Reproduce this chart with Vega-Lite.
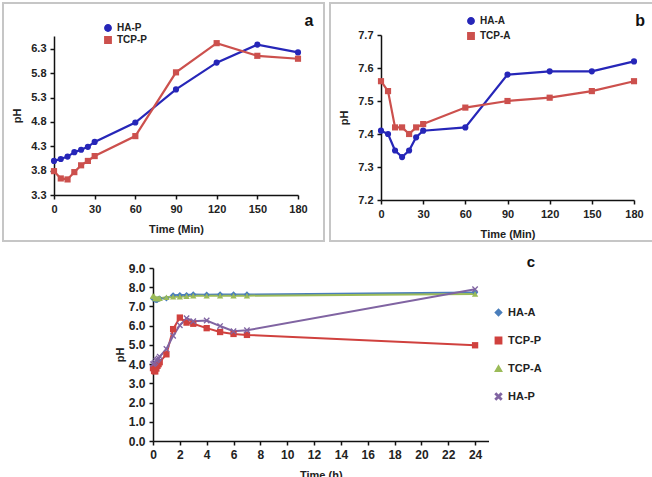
{
  "$schema": "https://vega.github.io/schema/vega-lite/v6.json",
  "padding": {"left": 2, "top": 2, "right": 0, "bottom": 0},
  "background": "white",
  "config": {
    "font": "Liberation Sans",
    "axis": {"grid": false, "domainColor": "#111", "domainWidth": 1.5, "tickColor": "#111", "tickWidth": 1.5, "tickSize": 4, "labelFontSize": 11, "labelFontWeight": "bold", "labelColor": "#222", "labelPadding": 4, "titleFontSize": 11, "titleFontWeight": "bold", "titleColor": "#222", "labelFlush": false, "labelOverlap": false},
    "legend": {"labelFontWeight": "bold", "labelColor": "#222"}
  },
  "datasets": {
    "a": [
      {"t": 0, "pH": 4.0, "s": "HA-P"}, {"t": 5, "pH": 4.04, "s": "HA-P"}, {"t": 10, "pH": 4.09, "s": "HA-P"}, {"t": 15, "pH": 4.18, "s": "HA-P"}, {"t": 20, "pH": 4.23, "s": "HA-P"}, {"t": 25, "pH": 4.29, "s": "HA-P"}, {"t": 30, "pH": 4.39, "s": "HA-P"}, {"t": 60, "pH": 4.79, "s": "HA-P"}, {"t": 90, "pH": 5.47, "s": "HA-P"}, {"t": 120, "pH": 6.02, "s": "HA-P"}, {"t": 150, "pH": 6.39, "s": "HA-P"}, {"t": 180, "pH": 6.23, "s": "HA-P"},
      {"t": 0, "pH": 3.79, "s": "TCP-P"}, {"t": 5, "pH": 3.64, "s": "TCP-P"}, {"t": 10, "pH": 3.62, "s": "TCP-P"}, {"t": 15, "pH": 3.77, "s": "TCP-P"}, {"t": 20, "pH": 3.91, "s": "TCP-P"}, {"t": 25, "pH": 4.0, "s": "TCP-P"}, {"t": 30, "pH": 4.1, "s": "TCP-P"}, {"t": 60, "pH": 4.51, "s": "TCP-P"}, {"t": 90, "pH": 5.82, "s": "TCP-P"}, {"t": 120, "pH": 6.42, "s": "TCP-P"}, {"t": 150, "pH": 6.16, "s": "TCP-P"}, {"t": 180, "pH": 6.1, "s": "TCP-P"}
    ],
    "b": [
      {"t": 0, "pH": 7.41, "s": "HA-A"}, {"t": 5, "pH": 7.40, "s": "HA-A"}, {"t": 10, "pH": 7.35, "s": "HA-A"}, {"t": 15, "pH": 7.33, "s": "HA-A"}, {"t": 20, "pH": 7.35, "s": "HA-A"}, {"t": 25, "pH": 7.39, "s": "HA-A"}, {"t": 30, "pH": 7.41, "s": "HA-A"}, {"t": 60, "pH": 7.42, "s": "HA-A"}, {"t": 90, "pH": 7.58, "s": "HA-A"}, {"t": 120, "pH": 7.59, "s": "HA-A"}, {"t": 150, "pH": 7.59, "s": "HA-A"}, {"t": 180, "pH": 7.62, "s": "HA-A"},
      {"t": 0, "pH": 7.56, "s": "TCP-A"}, {"t": 5, "pH": 7.53, "s": "TCP-A"}, {"t": 10, "pH": 7.42, "s": "TCP-A"}, {"t": 15, "pH": 7.42, "s": "TCP-A"}, {"t": 20, "pH": 7.40, "s": "TCP-A"}, {"t": 25, "pH": 7.42, "s": "TCP-A"}, {"t": 30, "pH": 7.43, "s": "TCP-A"}, {"t": 60, "pH": 7.48, "s": "TCP-A"}, {"t": 90, "pH": 7.50, "s": "TCP-A"}, {"t": 120, "pH": 7.51, "s": "TCP-A"}, {"t": 150, "pH": 7.53, "s": "TCP-A"}, {"t": 180, "pH": 7.56, "s": "TCP-A"}
    ],
    "c": [
      {"t": 0, "pH": 7.41, "s": "HA-A"}, {"t": 0.083, "pH": 7.40, "s": "HA-A"}, {"t": 0.167, "pH": 7.35, "s": "HA-A"}, {"t": 0.25, "pH": 7.33, "s": "HA-A"}, {"t": 0.333, "pH": 7.35, "s": "HA-A"}, {"t": 0.417, "pH": 7.39, "s": "HA-A"}, {"t": 0.5, "pH": 7.41, "s": "HA-A"}, {"t": 1, "pH": 7.42, "s": "HA-A"}, {"t": 1.5, "pH": 7.58, "s": "HA-A"}, {"t": 2, "pH": 7.59, "s": "HA-A"}, {"t": 2.5, "pH": 7.59, "s": "HA-A"}, {"t": 3, "pH": 7.62, "s": "HA-A"}, {"t": 4, "pH": 7.61, "s": "HA-A"}, {"t": 5, "pH": 7.62, "s": "HA-A"}, {"t": 6, "pH": 7.62, "s": "HA-A"}, {"t": 7, "pH": 7.62, "s": "HA-A"}, {"t": 24, "pH": 7.72, "s": "HA-A"},
      {"t": 0, "pH": 3.79, "s": "TCP-P"}, {"t": 0.083, "pH": 3.64, "s": "TCP-P"}, {"t": 0.167, "pH": 3.62, "s": "TCP-P"}, {"t": 0.25, "pH": 3.77, "s": "TCP-P"}, {"t": 0.333, "pH": 3.91, "s": "TCP-P"}, {"t": 0.417, "pH": 4.0, "s": "TCP-P"}, {"t": 0.5, "pH": 4.1, "s": "TCP-P"}, {"t": 1, "pH": 4.51, "s": "TCP-P"}, {"t": 1.5, "pH": 5.82, "s": "TCP-P"}, {"t": 2, "pH": 6.42, "s": "TCP-P"}, {"t": 2.5, "pH": 6.16, "s": "TCP-P"}, {"t": 3, "pH": 6.1, "s": "TCP-P"}, {"t": 4, "pH": 5.87, "s": "TCP-P"}, {"t": 5, "pH": 5.67, "s": "TCP-P"}, {"t": 6, "pH": 5.57, "s": "TCP-P"}, {"t": 7, "pH": 5.52, "s": "TCP-P"}, {"t": 24, "pH": 4.98, "s": "TCP-P"},
      {"t": 0, "pH": 7.56, "s": "TCP-A"}, {"t": 0.083, "pH": 7.53, "s": "TCP-A"}, {"t": 0.167, "pH": 7.42, "s": "TCP-A"}, {"t": 0.25, "pH": 7.42, "s": "TCP-A"}, {"t": 0.333, "pH": 7.40, "s": "TCP-A"}, {"t": 0.417, "pH": 7.42, "s": "TCP-A"}, {"t": 0.5, "pH": 7.43, "s": "TCP-A"}, {"t": 1, "pH": 7.48, "s": "TCP-A"}, {"t": 1.5, "pH": 7.50, "s": "TCP-A"}, {"t": 2, "pH": 7.51, "s": "TCP-A"}, {"t": 2.5, "pH": 7.53, "s": "TCP-A"}, {"t": 3, "pH": 7.56, "s": "TCP-A"}, {"t": 4, "pH": 7.55, "s": "TCP-A"}, {"t": 5, "pH": 7.56, "s": "TCP-A"}, {"t": 6, "pH": 7.56, "s": "TCP-A"}, {"t": 7, "pH": 7.56, "s": "TCP-A"}, {"t": 24, "pH": 7.65, "s": "TCP-A"},
      {"t": 0, "pH": 4.0, "s": "HA-P"}, {"t": 0.083, "pH": 4.04, "s": "HA-P"}, {"t": 0.167, "pH": 4.09, "s": "HA-P"}, {"t": 0.25, "pH": 4.18, "s": "HA-P"}, {"t": 0.333, "pH": 4.23, "s": "HA-P"}, {"t": 0.417, "pH": 4.29, "s": "HA-P"}, {"t": 0.5, "pH": 4.39, "s": "HA-P"}, {"t": 1, "pH": 4.79, "s": "HA-P"}, {"t": 1.5, "pH": 5.47, "s": "HA-P"}, {"t": 2, "pH": 6.02, "s": "HA-P"}, {"t": 2.5, "pH": 6.39, "s": "HA-P"}, {"t": 3, "pH": 6.23, "s": "HA-P"}, {"t": 4, "pH": 6.27, "s": "HA-P"}, {"t": 5, "pH": 5.98, "s": "HA-P"}, {"t": 6, "pH": 5.71, "s": "HA-P"}, {"t": 7, "pH": 5.76, "s": "HA-P"}, {"t": 24, "pH": 7.9, "s": "HA-P"}
    ]
  },
  "spacing": 4,
  "resolve": {"scale": {"color": "independent", "shape": "independent", "x": "independent", "y": "independent"}, "legend": {"color": "independent", "shape": "independent"}},
  "vconcat": [
    {
      "spacing": 4,
      "resolve": {"scale": {"color": "independent", "shape": "independent", "x": "independent", "y": "independent"}, "legend": {"color": "independent", "shape": "independent"}},
      "hconcat": [
        {
          "width": 321, "height": 238,
          "view": {"stroke": "#c6c6c6", "strokeWidth": 2},
          "layer": [
            {
              "data": {"name": "a"},
              "mark": {"type": "line", "strokeWidth": 2.2},
              "encoding": {
                "x": {"field": "t", "type": "quantitative", "scale": {"domain": [0, 180], "range": [51, 295], "nice": false, "zero": false}, "axis": {"values": [0, 30, 60, 90, 120, 150, 180], "title": "Time (Min)", "offset": -46, "titlePadding": 9, "labelOverlap": false}},
                "y": {"field": "pH", "type": "quantitative", "scale": {"domain": [3.3, 6.567], "range": [192, 33], "nice": false, "zero": false}, "axis": {"values": [3.3, 3.8, 4.3, 4.8, 5.3, 5.8, 6.3], "format": ".1f", "title": "pH", "offset": -51, "titlePadding": 8, "labelOverlap": false, "tickCount": 7}},
                "color": {"field": "s", "type": "nominal", "scale": {"domain": ["HA-P", "TCP-P"], "range": ["#2626b8", "#cc504d"]}, "legend": {"orient": "none", "legendX": 100, "legendY": 20, "title": null, "labelFontSize": 10, "rowPadding": -3, "symbolSize": 40}}
              }
            },
            {
              "data": {"name": "a"},
              "mark": {"type": "point", "filled": true, "size": 38, "opacity": 1},
              "encoding": {
                "x": {"field": "t", "type": "quantitative", "axis": {"values": [0, 30, 60, 90, 120, 150, 180], "title": "Time (Min)", "offset": -46, "titlePadding": 9, "labelOverlap": false}},
                "y": {"field": "pH", "type": "quantitative", "axis": {"values": [3.3, 3.8, 4.3, 4.8, 5.3, 5.8, 6.3], "format": ".1f", "title": "pH", "offset": -51, "titlePadding": 8, "labelOverlap": false, "tickCount": 7}},
                "color": {"field": "s", "type": "nominal", "legend": {"orient": "none", "legendX": 100, "legendY": 20, "title": null, "labelFontSize": 10, "rowPadding": -3, "symbolSize": 40}},
                "shape": {"field": "s", "type": "nominal", "scale": {"domain": ["HA-P", "TCP-P"], "range": ["circle", "square"]}, "legend": {"orient": "none", "legendX": 100, "legendY": 20, "title": null, "labelFontSize": 10, "rowPadding": -3, "symbolSize": 40}}
              }
            },
            {
              "data": {"values": [{}]},
              "mark": {"type": "text", "fontSize": 16, "fontWeight": "bold", "color": "#111"},
              "encoding": {"x": {"datum": 188, "type": "quantitative"}, "y": {"datum": 6.875, "type": "quantitative"}, "text": {"value": "a"}}
            }
          ]
        },
        {
          "width": 323, "height": 238,
          "view": {"stroke": "#c6c6c6", "strokeWidth": 2},
          "layer": [
            {
              "data": {"name": "b"},
              "mark": {"type": "line", "strokeWidth": 2.2},
              "encoding": {
                "x": {"field": "t", "type": "quantitative", "scale": {"domain": [0, 180], "range": [51, 304], "nice": false, "zero": false}, "axis": {"values": [0, 30, 60, 90, 120, 150, 180], "title": "Time (Min)", "offset": -41, "titlePadding": 9, "labelOverlap": false}},
                "y": {"field": "pH", "type": "quantitative", "scale": {"domain": [7.2, 7.7], "range": [197, 32], "nice": false, "zero": false}, "axis": {"values": [7.2, 7.3, 7.4, 7.5, 7.6, 7.7], "format": ".1f", "title": "pH", "offset": -51, "titlePadding": 8, "labelOverlap": false, "tickCount": 6}},
                "color": {"field": "s", "type": "nominal", "scale": {"domain": ["HA-A", "TCP-A"], "range": ["#2626b8", "#cc504d"]}, "legend": {"orient": "none", "legendX": 136, "legendY": 13, "title": null, "labelFontSize": 10, "rowPadding": 1, "symbolSize": 40}}
              }
            },
            {
              "data": {"name": "b"},
              "mark": {"type": "point", "filled": true, "size": 38, "opacity": 1},
              "encoding": {
                "x": {"field": "t", "type": "quantitative", "axis": {"values": [0, 30, 60, 90, 120, 150, 180], "title": "Time (Min)", "offset": -41, "titlePadding": 9, "labelOverlap": false}},
                "y": {"field": "pH", "type": "quantitative", "axis": {"values": [7.2, 7.3, 7.4, 7.5, 7.6, 7.7], "format": ".1f", "title": "pH", "offset": -51, "titlePadding": 8, "labelOverlap": false, "tickCount": 6}},
                "color": {"field": "s", "type": "nominal", "legend": {"orient": "none", "legendX": 136, "legendY": 13, "title": null, "labelFontSize": 10, "rowPadding": 1, "symbolSize": 40}},
                "shape": {"field": "s", "type": "nominal", "scale": {"domain": ["HA-A", "TCP-A"], "range": ["circle", "square"]}, "legend": {"orient": "none", "legendX": 136, "legendY": 13, "title": null, "labelFontSize": 10, "rowPadding": 1, "symbolSize": 40}}
              }
            },
            {
              "data": {"values": [{}]},
              "mark": {"type": "text", "fontSize": 16, "fontWeight": "bold", "color": "#111"},
              "encoding": {"x": {"datum": 184.3, "type": "quantitative"}, "y": {"datum": 7.742, "type": "quantitative"}, "text": {"value": "b"}}
            }
          ]
        }
      ]
    },
    {
      "width": 648, "height": 233,
      "view": {"stroke": null},
      "layer": [
        {
          "data": {"name": "c"},
          "mark": {"type": "line", "strokeWidth": 2},
          "encoding": {
            "x": {"field": "t", "type": "quantitative", "scale": {"domain": [0, 25], "range": [150, 485.5], "nice": false, "zero": false}, "axis": {"values": [0, 2, 4, 6, 8, 10, 12, 14, 16, 18, 20, 22, 24], "title": "Time (h)", "offset": -38, "titlePadding": 9, "labelFontSize": 12, "labelOverlap": false}},
            "y": {"field": "pH", "type": "quantitative", "scale": {"domain": [0, 9], "range": [195, 22], "nice": false, "zero": false}, "axis": {"values": [0, 1, 2, 3, 4, 5, 6, 7, 8, 9], "format": ".1f", "title": "pH", "offset": -150, "titlePadding": 3, "labelFontSize": 12, "labelOverlap": false, "tickCount": 10}},
            "color": {"field": "s", "type": "nominal", "scale": {"domain": ["HA-A", "TCP-P", "TCP-A", "HA-P"], "range": ["#4a7ebb", "#d0413e", "#9bbb59", "#8064a2"]}, "legend": {"orient": "none", "legendX": 490, "legendY": 61, "title": null, "labelFontSize": 11, "rowPadding": 15, "symbolSize": 40}}
          }
        },
        {
          "data": {"name": "c"},
          "mark": {"type": "point", "filled": true, "size": 40, "opacity": 1},
          "encoding": {
            "x": {"field": "t", "type": "quantitative", "axis": {"values": [0, 2, 4, 6, 8, 10, 12, 14, 16, 18, 20, 22, 24], "title": "Time (h)", "offset": -38, "titlePadding": 9, "labelFontSize": 12, "labelOverlap": false}},
            "y": {"field": "pH", "type": "quantitative", "axis": {"values": [0, 1, 2, 3, 4, 5, 6, 7, 8, 9], "format": ".1f", "title": "pH", "offset": -150, "titlePadding": 3, "labelFontSize": 12, "labelOverlap": false, "tickCount": 10}},
            "color": {"field": "s", "type": "nominal", "legend": {"orient": "none", "legendX": 490, "legendY": 61, "title": null, "labelFontSize": 11, "rowPadding": 15, "symbolSize": 40}},
            "shape": {"field": "s", "type": "nominal", "scale": {"domain": ["HA-A", "TCP-P", "TCP-A", "HA-P"], "range": ["diamond", "square", "triangle-up", "M-1,-0.7L-0.7,-1L0,-0.3L0.7,-1L1,-0.7L0.3,0L1,0.7L0.7,1L0,0.3L-0.7,1L-1,0.7L-0.3,0Z"]}, "legend": {"orient": "none", "legendX": 490, "legendY": 61, "title": null, "labelFontSize": 11, "rowPadding": 15, "symbolSize": 40}}
          }
        },
        {
          "data": {"values": [{}]},
          "mark": {"type": "text", "fontSize": 15, "fontWeight": "bold", "color": "#111"},
          "encoding": {"x": {"datum": 28.17, "type": "quantitative"}, "y": {"datum": 9.31, "type": "quantitative"}, "text": {"value": "c"}}
        }
      ]
    }
  ]
}
